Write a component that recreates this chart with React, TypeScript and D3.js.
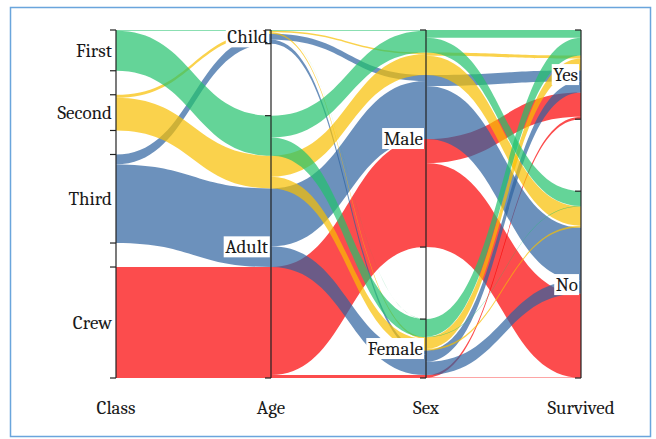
import React, { useEffect, useRef } from "react";
import * as d3 from "d3";

// Dimensions (axes) and their categories, top to bottom
const dimensions = ["Class", "Age", "Sex", "Survived"];
const classes = ["First", "Second", "Third", "Crew"];
const ages = ["Child", "Adult"];
const sexes = ["Male", "Female"];
const survivedCats = ["Yes", "No"];

// Passenger counts by class (First, Second, Third, Crew) for each Age/Sex/Survived combination
const childMaleNo = [0, 0, 35, 0];
const childFemaleNo = [0, 0, 17, 0];
const adultMaleNo = [118, 154, 387, 670];
const adultFemaleNo = [4, 13, 89, 3];
const childMaleYes = [5, 11, 13, 0];
const childFemaleYes = [1, 13, 14, 0];
const adultMaleYes = [57, 14, 75, 192];
const adultFemaleYes = [140, 80, 76, 20];

const classColors = ["#22c26c", "#f8bf00", "#2d639f", "#fb0002"];

const W = 656;
const H = 439;

export default function App() {
  const ref = useRef<SVGSVGElement>(null);

  useEffect(() => {
    const svg = d3.select(ref.current);
    svg.selectAll("*").remove();

    const combos: [string, string, string, number[]][] = [
      ["Child", "Male", "No", childMaleNo],
      ["Child", "Female", "No", childFemaleNo],
      ["Adult", "Male", "No", adultMaleNo],
      ["Adult", "Female", "No", adultFemaleNo],
      ["Child", "Male", "Yes", childMaleYes],
      ["Child", "Female", "Yes", childFemaleYes],
      ["Adult", "Male", "Yes", adultMaleYes],
      ["Adult", "Female", "Yes", adultFemaleYes],
    ];
    const records: any[] = [];
    combos.forEach(([age, sex, surv, arr]) => {
      arr.forEach((n, i) =>
        records.push({ Class: classes[i], Age: age, Sex: sex, Survived: surv, n })
      );
    });
    const total = d3.sum(records, (r) => r.n);
    const catsOf: Record<string, string[]> = {
      Class: classes,
      Age: ages,
      Sex: sexes,
      Survived: survivedCats,
    };

    const x = d3.scalePoint().domain(dimensions).range([116, 581]);
    const yTop = 30;
    const yBot = 378;
    const gapTotal = 72;
    const k = (yBot - yTop - gapTotal) / total;
    const unit = d3.scaleLinear().domain([0, total]).range([0, total * k]);

    const catPos: Record<string, Record<string, { y0: number; y1: number }>> = {};
    dimensions.forEach((dim) => {
      const cats = catsOf[dim];
      const gap = gapTotal / (cats.length - 1);
      let y = yTop;
      catPos[dim] = {};
      cats.forEach((c) => {
        const cnt = d3.sum(records.filter((r) => r[dim] === c), (r) => r.n);
        const h = unit(cnt);
        catPos[dim][c] = { y0: y, y1: y + h };
        y += h + gap;
      });
    });

    const ci = (c: string) => classes.indexOf(c);
    const gFlows = svg.append("g");

    for (let p = 0; p < dimensions.length - 1; p++) {
      const A = dimensions[p];
      const B = dimensions[p + 1];
      const roll = d3.rollups(
        records,
        (v) => d3.sum(v, (r) => r.n),
        (r) => r.Class,
        (r) => r[A],
        (r) => r[B]
      );
      const flows: any[] = [];
      roll.forEach(([cls, aa]) =>
        aa.forEach(([a, bb]) =>
          bb.forEach(([b, n]) => {
            if (n > 0) flows.push({ cls, a, b, n });
          })
        )
      );
      const catsA = catsOf[A];
      const catsB = catsOf[B];
      const leftY = new Map<any, number>();
      catsA.forEach((a) => {
        let y = catPos[A][a].y0;
        flows
          .filter((f) => f.a === a)
          .sort((f1, f2) => ci(f1.cls) - ci(f2.cls) || catsB.indexOf(f1.b) - catsB.indexOf(f2.b))
          .forEach((f) => {
            leftY.set(f, y);
            y += unit(f.n);
          });
      });
      const rightY = new Map<any, number>();
      catsB.forEach((b) => {
        let y = catPos[B][b].y0;
        flows
          .filter((f) => f.b === b)
          .sort((f1, f2) => ci(f1.cls) - ci(f2.cls) || catsA.indexOf(f1.a) - catsA.indexOf(f2.a))
          .forEach((f) => {
            rightY.set(f, y);
            y += unit(f.n);
          });
      });
      const x0 = x(A)!;
      const x1 = x(B)!;
      const xm = (x0 + x1) / 2;
      const ordered = flows.slice().sort((f1, f2) => ci(f2.cls) - ci(f1.cls));
      ordered.forEach((f) => {
        const ya = leftY.get(f)!;
        const yb = rightY.get(f)!;
        const h = unit(f.n);
        const path = d3.path();
        path.moveTo(x0, ya);
        path.bezierCurveTo(xm, ya, xm, yb, x1, yb);
        path.lineTo(x1, yb + h);
        path.bezierCurveTo(xm, yb + h, xm, ya + h, x0, ya + h);
        path.closePath();
        gFlows
          .append("path")
          .attr("d", path.toString())
          .attr("fill", classColors[ci(f.cls)])
          .attr("fill-opacity", 0.7);
      });
    }

    const font = "Cambria, 'Liberation Serif', serif";
    const fs = 19;

    const gLab = svg.append("g");
    dimensions.forEach((dim, di) => {
      const ax = x(dim)!;
      catsOf[dim].forEach((c) => {
        const { y0, y1 } = catPos[dim][c];
        const cy = (y0 + y1) / 2;
        if (di === 0) {
          gLab
            .append("text")
            .attr("x", ax - 4)
            .attr("y", cy)
            .attr("dy", "0.35em")
            .attr("text-anchor", "end")
            .attr("font-family", font)
            .attr("font-size", fs)
            .attr("fill", "#1a1a1a")
            .text(c);
        } else {
          const g = gLab.append("g");
          const rect = g.append("rect").attr("fill", "white");
          const t = g
            .append("text")
            .attr("x", ax - 3)
            .attr("y", cy)
            .attr("dy", "0.35em")
            .attr("text-anchor", "end")
            .attr("font-family", font)
            .attr("font-size", fs)
            .attr("fill", "#1a1a1a")
            .text(c);
          const bb = (t.node() as SVGTextElement).getBBox();
          rect
            .attr("x", bb.x - 1.5)
            .attr("y", cy - 10.5)
            .attr("width", bb.width + 2.5)
            .attr("height", 21);
        }
      });
    });

    const gAx = svg.append("g");
    dimensions.forEach((dim) => {
      const ax = x(dim)!;
      gAx
        .append("line")
        .attr("x1", ax)
        .attr("x2", ax)
        .attr("y1", yTop)
        .attr("y2", yBot)
        .attr("stroke", "#222")
        .attr("stroke-width", 1.2);
      const ticks: number[] = [];
      catsOf[dim].forEach((c) => {
        ticks.push(catPos[dim][c].y0, catPos[dim][c].y1);
      });
      gAx
        .selectAll(null)
        .data(ticks)
        .enter()
        .append("line")
        .attr("x1", ax - 6)
        .attr("x2", ax)
        .attr("y1", (d) => d)
        .attr("y2", (d) => d)
        .attr("stroke", "#222")
        .attr("stroke-width", 1.2);
      gAx
        .append("text")
        .attr("x", ax)
        .attr("y", 414)
        .attr("text-anchor", "middle")
        .attr("font-family", font)
        .attr("font-size", fs)
        .attr("fill", "#1a1a1a")
        .text(dim);
    });

    svg
      .append("rect")
      .attr("x", 10.5)
      .attr("y", 7.5)
      .attr("width", 640)
      .attr("height", 429)
      .attr("fill", "none")
      .attr("stroke", "#6aa5dc")
      .attr("stroke-width", 1.5);
  }, []);

  return (
    <svg
      ref={ref}
      width={W}
      height={H}
      style={{ position: "absolute", left: 0, top: 0, background: "white" }}
    />
  );
}
